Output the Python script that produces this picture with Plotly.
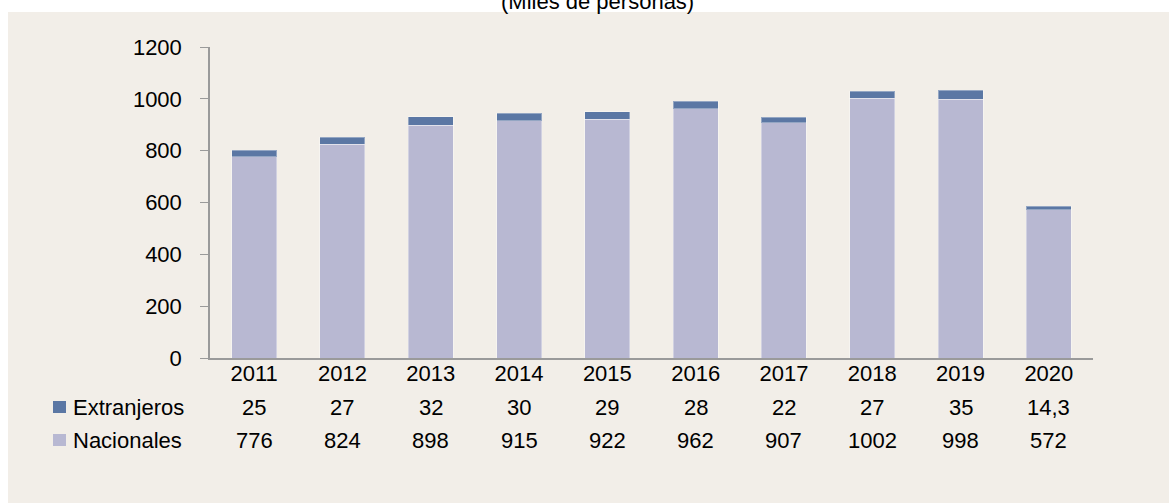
import plotly.graph_objects as go

# ── Data ───────────────────────────────────────────
years = ["2011", "2012", "2013", "2014", "2015", "2016", "2017", "2018", "2019", "2020"]
extranjeros = [25, 27, 32, 30, 29, 28, 22, 27, 35, 14.3]
nacionales = [776, 824, 898, 915, 922, 962, 907, 1002, 998, 572]
y_ticks = [0, 200, 400, 600, 800, 1000, 1200]

C_EXT = "#5B77A4"
C_NAC = "#B8B8D2"
BG = "#F2EEE8"
FONT = "Liberation Sans, Arial, sans-serif"
FS = 22

pos = list(range(len(years)))


def fmt(v):
    # spanish decimal comma
    return f"{v:g}".replace(".", ",")


fig = go.Figure()
fig.add_trace(go.Bar(x=pos, y=nacionales, name="Nacionales", marker_color=C_NAC,
                     marker_line=dict(color="rgba(255,255,255,0.35)", width=1)))
fig.add_trace(go.Bar(x=pos, y=extranjeros, name="Extranjeros", marker_color=C_EXT,
                     marker_line=dict(color="rgba(255,255,255,0.35)", width=1)))

# plot area in page pixels: x 210..1093, y 47..358
L, R, T, B = 210, 1169 - 1093, 47, 503 - 358
W, H = 1169 - L - R, 503 - T - B


def px_x(p):
    return (p - L) / W


def px_y(p):
    return (T + H - p) / H


# beige panel behind everything
fig.add_shape(type="rect", xref="paper", yref="paper", layer="below",
              x0=px_x(8), x1=px_x(1180), y0=px_y(520), y1=px_y(12),
              fillcolor=BG, line_width=0)

ann = []
# data table rows
rows = [("Extranjeros", extranjeros, C_EXT, 407), ("Nacionales", nacionales, C_NAC, 440)]
for label, vals, col, py in rows:
    ann.append(dict(x=px_x(72), y=px_y(py), xref="paper", yref="paper", text=label,
                    showarrow=False, xanchor="left", yanchor="middle", borderpad=0))
    fig.add_shape(type="rect", xref="paper", yref="paper",
                  x0=px_x(53), x1=px_x(66), y0=px_y(py - 6), y1=px_y(py + 6),
                  fillcolor=col, line_width=0)
    for i, v in zip(pos, vals):
        ann.append(dict(x=i, y=px_y(py), xref="x", yref="paper", text=fmt(v),
                        showarrow=False, xanchor="center", yanchor="middle"))

# title, cut off by the top of the page like the original
ann.append(dict(x=px_x(597), y=px_y(16), xref="paper", yref="paper",
                text="(Miles de personas)", showarrow=False,
                xanchor="center", yanchor="bottom"))

fig.update_layout(
    barmode="stack",
    bargap=0.49,
    width=1169, height=503,
    margin=dict(l=L, r=R, t=T, b=B, pad=0),
    paper_bgcolor="white",
    plot_bgcolor="rgba(0,0,0,0)",
    showlegend=False,
    font=dict(family=FONT, size=FS, color="#000000"),
    annotations=ann,
)
fig.update_xaxes(range=[-0.5, len(years) - 0.5], tickvals=pos, ticktext=years,
                 automargin=False, showline=True, linecolor="#9A9A9A", linewidth=1.5,
                 ticks="", showgrid=False, zeroline=False, tickfont=dict(size=FS),
                 ticklabelstandoff=-5)
fig.update_yaxes(range=[0, 1200], tickvals=y_ticks, automargin=False, showline=True,
                 linecolor="#9A9A9A", linewidth=1.5, ticks="outside", ticklen=8,
                 tickcolor="#9A9A9A", showgrid=False, zeroline=False,
                 tickfont=dict(size=FS), ticklabelstandoff=14)

# page has a default 8px body margin; drop it so the figure sits at the corner
fig.write_html("out.html", config={"displayModeBar": False},
               post_script="document.body.style.margin='0';")
